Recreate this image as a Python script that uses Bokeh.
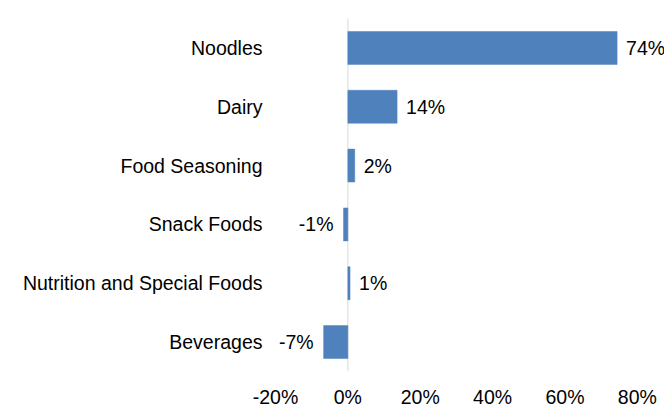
from bokeh.plotting import figure
from bokeh.models import ColumnDataSource, FactorRange, Range1d, FixedTicker, PrintfTickFormatter, LabelSet, Span
from bokeh.core.properties import value
from bokeh.embed import file_html
from bokeh.resources import INLINE

# Data (top-to-bottom order as displayed)
categories = ["Noodles", "Dairy", "Food Seasoning", "Snack Foods",
              "Nutrition and Special Foods", "Beverages"]
values = [74.4, 13.6, 1.9, -1.2, 0.6, -6.7]
x_ticks = [-20, 0, 20, 40, 60, 80]

FONT = "Liberation Sans"
FS = "19.5px"
BAR = "#4F81BD"

labels = [f"{v:.0f}%" for v in values]
src_pos = ColumnDataSource(dict(
    cat=[c for c, v in zip(categories, values) if v >= 0],
    val=[v for v in values if v >= 0],
    lab=[l for l, v in zip(labels, values) if v >= 0]))
src_neg = ColumnDataSource(dict(
    cat=[c for c, v in zip(categories, values) if v < 0],
    val=[v for v in values if v < 0],
    lab=[l for l, v in zip(labels, values) if v < 0]))
src = ColumnDataSource(dict(cat=categories, val=values))

p = figure(width=664, height=410, output_backend="svg", toolbar_location=None,
           y_range=FactorRange(factors=list(reversed(categories))),
           x_range=Range1d(-20, 87.5),
           min_border_left=275, min_border_right=0,
           min_border_top=18, min_border_bottom=36)

p.background_fill_color = "white"
p.border_fill_color = "white"
p.outline_line_color = None
p.xgrid.grid_line_color = None
p.ygrid.grid_line_color = None

zero = Span(location=0, dimension="height", line_color="#D9D9D9", line_width=1, level="underlay")
p.add_layout(zero)

p.hbar(y="cat", left=0, right="val", height=0.56, source=src,
       fill_color=BAR, line_color=BAR, line_width=0.5)

p.add_layout(LabelSet(x="val", y="cat", text="lab", source=src_pos,
                      x_offset=9, text_align="left", text_baseline="middle",
                      text_font=value(FONT), text_font_size=FS, text_color="#000000"))
p.add_layout(LabelSet(x="val", y="cat", text="lab", source=src_neg,
                      x_offset=-10, text_align="right", text_baseline="middle",
                      text_font=value(FONT), text_font_size=FS, text_color="#000000"))

# x axis
xa = p.xaxis[0]
xa.ticker = FixedTicker(ticks=x_ticks)
xa.formatter = PrintfTickFormatter(format="%d%%")
xa.axis_line_color = None
xa.major_tick_line_color = None
xa.minor_tick_line_color = None
xa.major_tick_out = 0
xa.major_tick_in = 0
xa.major_label_standoff = 14
xa.major_label_text_font = FONT
xa.major_label_text_font_size = FS
xa.major_label_text_color = "#000000"

# y axis
ya = p.yaxis[0]
ya.axis_line_color = None
ya.major_tick_line_color = None
ya.minor_tick_line_color = None
ya.major_tick_out = 0
ya.major_tick_in = 0
ya.major_label_standoff = 13
ya.major_label_text_font = FONT
ya.major_label_text_font_size = FS
ya.major_label_text_color = "#000000"

open("out.html", "w").write(file_html(p, INLINE))
